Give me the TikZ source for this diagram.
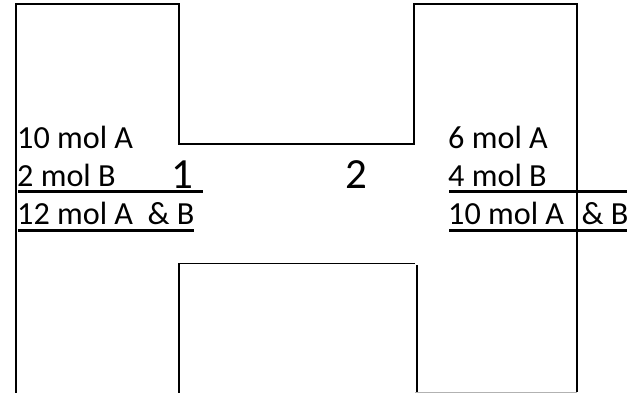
\documentclass[tikz,border=0pt]{standalone}
\usepackage{fontspec}
\setmainfont{Carlito}
\begin{document}
\begin{tikzpicture}[x=1pt,y=-1pt,
  wall/.style={line width=1.4pt, line join=miter},
  uline/.style={line width=2.6pt},
  lbl/.style={anchor=base west, inner sep=0pt, font=\fontsize{32.2}{38}\selectfont},
  big/.style={anchor=base west, inner sep=0pt, font=\fontsize{43}{50}\selectfont}]
\useasboundingbox (0,0) rectangle (627,393);
% walls
\draw[wall] (16,393) -- (16,4) -- (179,4) -- (179,144) -- (414,144) -- (414,4) -- (577,4) -- (577,392);
\draw[wall] (179,393) -- (179,263.5) -- (415,263.5);
\draw[wall] (417,265) -- (417,392);
\draw[line width=1pt, gray!60] (415,392.3) -- (577,392.3);
% left labels
\node[lbl] (la) at (17,149) {10 mol A};
\node[lbl] (lb) at (17,187) {2 mol B};
\node[lbl] (lab) at (17,225) {12 mol A\ \ \& B};
\node[big] (n1) at (171,189) {1};
\draw[uline] (18,191.5) -- (203,191.5);
\draw[uline] (18,230.5) -- (194,230.5);
% right labels
\node[big] (n2) at (345,189) {2};
\node[lbl] (ra) at (448,149) {6 mol A};
\node[lbl] (rb) at (448,187) {4 mol B};
\node[lbl] (rab) at (448,225) {10 mol A\ \ \hspace{3pt}\& B};
\draw[uline] (449,191.5) -- (627,191.5);
\draw[uline] (449,230.5) -- (627,230.5);
\end{tikzpicture}
\end{document}
